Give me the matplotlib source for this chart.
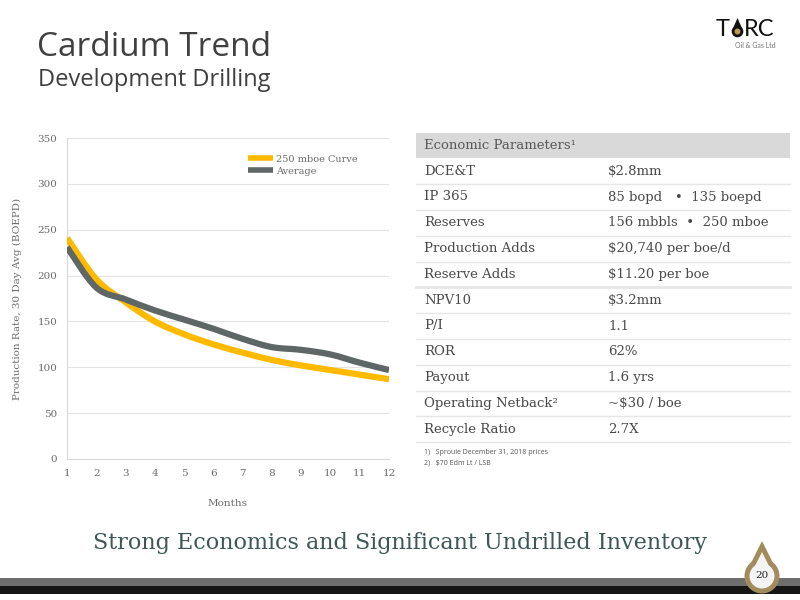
import numpy as np
import matplotlib
matplotlib.use("Agg")
import matplotlib.pyplot as plt
from matplotlib.path import Path
from matplotlib.patches import PathPatch, Rectangle, Polygon, Circle
from matplotlib.lines import Line2D

# chart data
months = [1, 2, 3, 4, 5, 6, 7, 8, 9, 10, 11, 12]
curve_250 = [241, 196, 171, 150, 136, 125, 116, 108, 102, 97, 92, 87]
average = [231, 187, 174, 162, 152, 142, 131, 122, 119, 114, 105, 97]
yticks = [0, 50, 100, 150, 200, 250, 300, 350]

# table data
param_labels = ["DCE&T", "IP 365", "Reserves", "Production Adds", "Reserve Adds",
                "NPV10", "P/I", "ROR", "Payout", "Operating Netback\u00b2", "Recycle Ratio"]
param_values = ["$2.8mm", "85 bopd   \u2022  135 boepd", "156 mbbls  \u2022  250 mboe",
                "$20,740 per boe/d", "$11.20 per boe", "$3.2mm", "1.1", "62%",
                "1.6 yrs", "~$30 / boe", "2.7X"]
footnotes = ["1)   Sproule December 31, 2018 prices", "2)   $70 Edm Lt / LSB"]

W, H = 800, 600
fig = plt.figure(figsize=(8, 6), dpi=100)


def fx(px):
    return px / W


def fy(py):
    return 1 - py / H


def smooth_path(x, y):
    # Catmull-Rom style bezier like the office "smoothed line"
    pts = np.column_stack([x, y]).astype(float)
    n = len(pts)
    verts = [pts[0]]
    codes = [Path.MOVETO]
    for i in range(n - 1):
        p0 = pts[i - 1] if i > 0 else pts[i]
        p1 = pts[i]
        p2 = pts[i + 1]
        p3 = pts[i + 2] if i + 2 < n else pts[i + 1]
        c1 = p1 + (p2 - p0) / 6.0
        c2 = p2 - (p3 - p1) / 6.0
        verts += [c1, c2, p2]
        codes += [Path.CURVE4] * 3
    return Path(verts, codes)


serif = "DejaVu Serif"
grey_txt = "#6b6b6b"
yellow = "#FFBA00"
dgrey = "#5f6766"

ax = fig.add_axes([fx(67), fy(459), fx(389 - 67), (459 - 138) / H])
ax.set_xlim(1, 12)
ax.set_ylim(0, 350)
ax.set_yticks(yticks)
ax.set_xticks(months)
ax.grid(axis="y", color="#e3e3e3", lw=0.8)
ax.set_axisbelow(True)
for s in ["top", "right"]:
    ax.spines[s].set_visible(False)
for s in ["left", "bottom"]:
    ax.spines[s].set_color("#d9d9d9")
ax.tick_params(length=0, labelsize=7.5, labelcolor=grey_txt, pad=7)
for lab in ax.get_xticklabels() + ax.get_yticklabels():
    lab.set_fontfamily(serif)

ax.add_patch(PathPatch(smooth_path(months, curve_250), fill=False, ec=yellow, lw=4.5,
                       capstyle="butt", zorder=3))
ax.add_patch(PathPatch(smooth_path(months, average), fill=False, ec=dgrey, lw=4.5,
                       capstyle="butt", zorder=4))

handles = [Line2D([], [], color=yellow, lw=4, solid_capstyle="butt"),
           Line2D([], [], color=dgrey, lw=4, solid_capstyle="butt")]
leg = ax.legend(handles, ["250 mboe Curve", "Average"], loc="upper left",
                bbox_to_anchor=(0.535, 0.975), frameon=False, handlelength=2.6,
                handletextpad=0.25, labelspacing=0.3,
                prop={"family": serif, "size": 7})
for t in leg.get_texts():
    t.set_color(grey_txt)

ax.set_xlabel("Months", family=serif, fontsize=7.5, color=grey_txt, labelpad=15)
ax.set_ylabel("Production Rate, 30 Day Avg (BOEPD)", family=serif, fontsize=7.5,
              color=grey_txt, labelpad=11)

# titles
fig.text(fx(37), fy(47), "Cardium Trend", family="Open Sans", fontsize=24,
         color="#404040", va="center")
fig.text(fx(38), fy(80), "Development Drilling", family="Open Sans", fontsize=17,
         color="#404040", va="center")

# table
tx0, tx1, tsplit = 416, 790, 599
top = 132.5
rh = 25.8
fig.patches.append(Rectangle((fx(tx0), fy(top + rh)), fx(tx1 - tx0), rh / H,
                             transform=fig.transFigure, fc="#d9d9d9", ec="none"))
fig.text(fx(424), fy(top + rh / 2), "Economic Parameters\u00b9", family=serif, fontsize=9.5,
         color="#595959", va="center")
for i, (lab, val) in enumerate(zip(param_labels, param_values)):
    yc = top + rh * (i + 1.5)
    fig.text(fx(424), fy(yc), lab, family=serif, fontsize=9.5, color="#4a4a4a", va="center")
    fig.text(fx(608), fy(yc), val, family=serif, fontsize=9.5, color="#4a4a4a", va="center")
    yl = top + rh * (i + 2)
    lw = 2 if i == 4 else 1
    fig.add_artist(Line2D([fx(tx0), fx(tx1)], [fy(yl), fy(yl)], color="#e6e6e6", lw=lw))
for i, fn in enumerate(footnotes):
    fig.text(fx(424), fy(453 + i * 10.5), fn, family="Open Sans", fontsize=5,
             color="#555555", va="center")

# tagline
fig.text(0.5, fy(543), "Strong Economics and Significant Undrilled Inventory",
         family=serif, fontsize=16, color="#3d5656", ha="center", va="center")

# bottom bar
fig.patches.append(Rectangle((0, fy(586)), 1, 8 / H, transform=fig.transFigure,
                             fc="#6e6e6e", ec="none"))
fig.patches.append(Rectangle((0, fy(594)), 1, 8 / H, transform=fig.transFigure,
                             fc="#161616", ec="none"))

# page drop with number
dax = fig.add_axes([fx(740), fy(596), fx(44), 56 / H], zorder=5)
dax.set_xlim(0, 44)
dax.set_ylim(0, 56)
dax.axis("off")
dax.add_patch(Polygon([[22, 55], [5.5, 22], [38.5, 22]], closed=True, fc="#a38c5c", ec="none"))
dax.add_patch(Circle((22, 20), 17.5, fc="#a38c5c", ec="none"))
dax.add_patch(Polygon([[22, 44], [10, 20], [34, 20]], closed=True, fc="#f4f4f4", ec="none"))
dax.add_patch(Circle((22, 20), 12.5, fc="#f4f4f4", ec="none"))
dax.text(22, 21, "20", family=serif, fontsize=7.5, ha="center", va="center", color="#222222")

# logo
fig.text(fx(716), fy(29), "T", family="Lato", fontsize=17, color="#111111", va="center")
fig.text(fx(744), fy(29), "RC", family="Lato", fontsize=17, color="#111111", va="center")
lax = fig.add_axes([fx(731), fy(38), fx(13), 20 / H])
lax.set_xlim(0, 13)
lax.set_ylim(0, 20)
lax.axis("off")
lax.add_patch(Polygon([[6.5, 20], [0.8, 7], [12.2, 7]], closed=True, fc="#111111", ec="none"))
lax.add_patch(Circle((6.5, 6.5), 5.8, fc="#111111", ec="none"))
lax.add_patch(Circle((6.5, 6.5), 3.0, fc="#b89a52", ec="none"))
fig.text(fx(735), fy(45), "Oil & Gas Ltd", family="Lato", fontsize=5, color="#777777",
         va="center")

plt.savefig("out.png", dpi=100)
